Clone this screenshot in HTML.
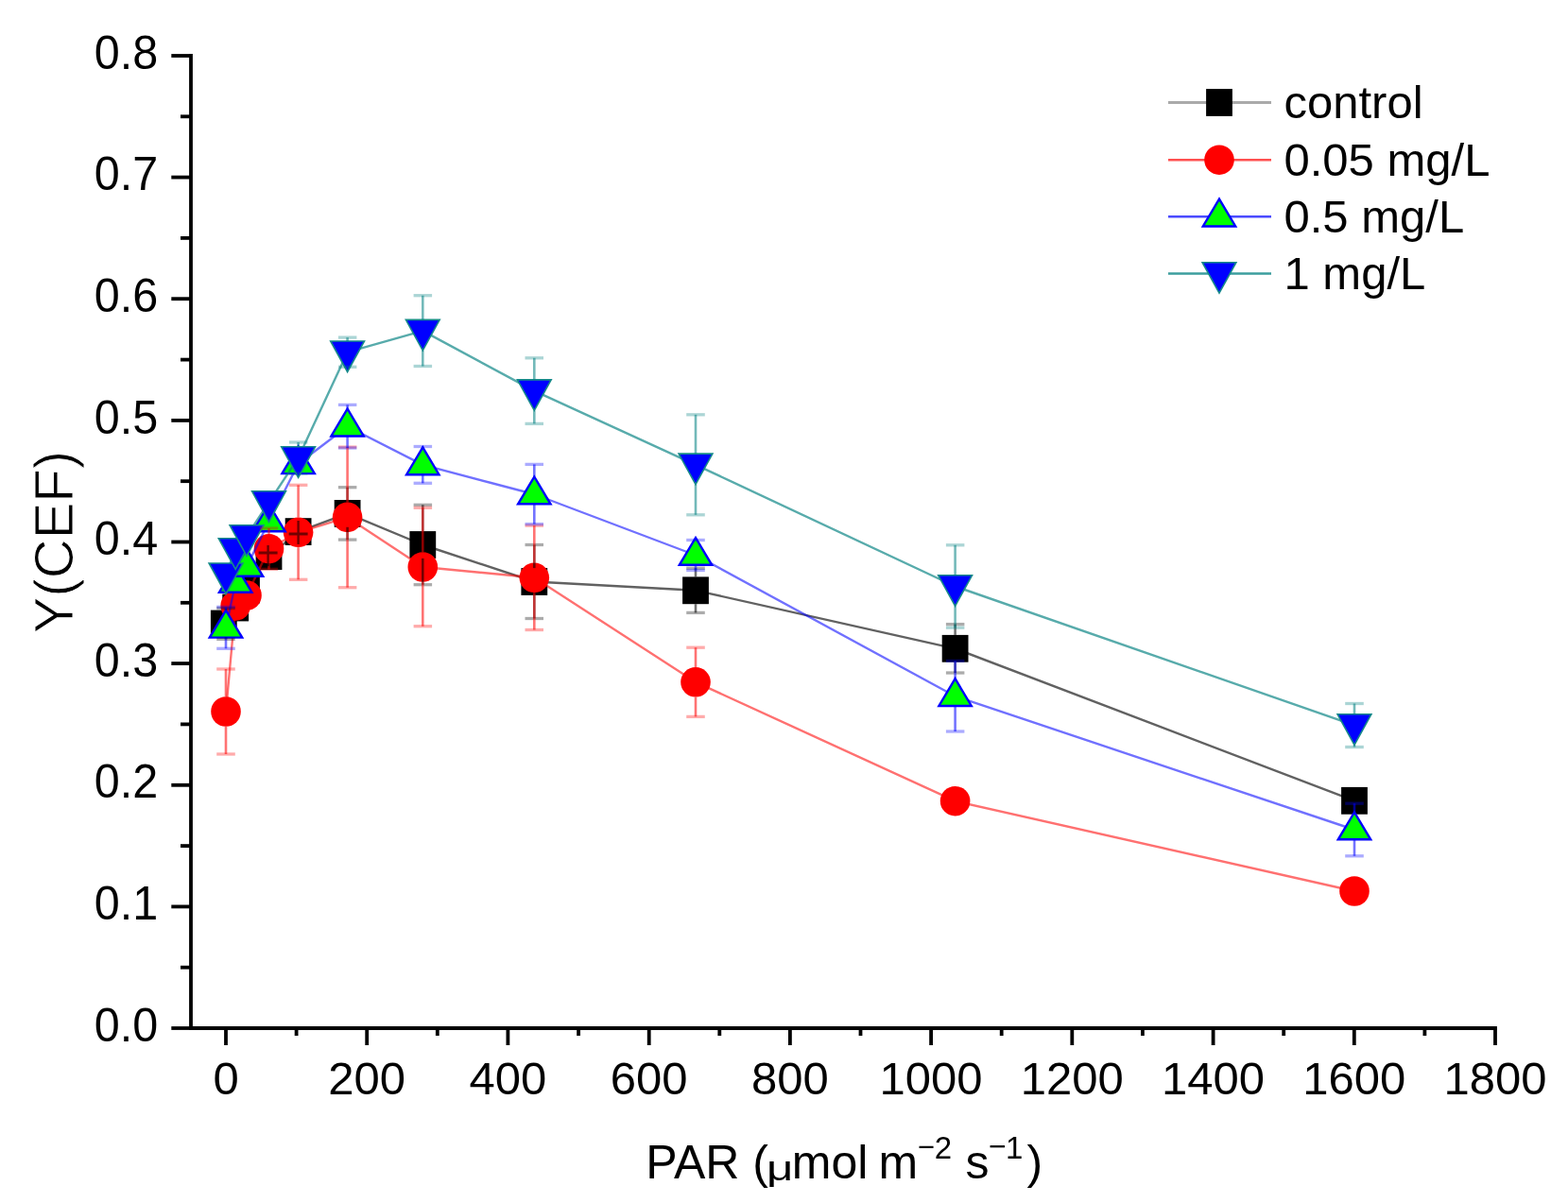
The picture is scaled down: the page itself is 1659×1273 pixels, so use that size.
<!DOCTYPE html><html><head><meta charset="utf-8"><title>Y(CEF) vs PAR</title>
<style>html,body{margin:0;padding:0;background:#fff;}svg{display:block;}text{font-family:'Liberation Sans', sans-serif;fill:#000;}</style>
</head><body>
<svg width="1659" height="1273" viewBox="0 0 1659 1273">
<rect width="1659" height="1273" fill="#fff"/>
<polyline points="239.0,660.0 249.2,643.0 261.0,624.0 284.5,588.6 315.6,562.6 367.6,543.4 447.3,576.5 565.3,615.5 736.0,624.8 1010.6,686.3 1433.0,847.3" fill="none" stroke="#000000" stroke-opacity="0.62" stroke-width="2.4" stroke-linejoin="round"/>
<rect x="222.9" y="645.6" width="27.8" height="28.8" fill="#000"/>
<rect x="235.3" y="628.6" width="27.8" height="28.8" fill="#000"/>
<rect x="247.1" y="609.6" width="27.8" height="28.8" fill="#000"/>
<rect x="270.6" y="574.2" width="27.8" height="28.8" fill="#000"/>
<rect x="301.7" y="548.2" width="27.8" height="28.8" fill="#000"/>
<rect x="353.7" y="529.0" width="27.8" height="28.8" fill="#000"/>
<rect x="433.4" y="562.1" width="27.8" height="28.8" fill="#000"/>
<rect x="551.4" y="601.1" width="27.8" height="28.8" fill="#000"/>
<rect x="722.1" y="610.4" width="27.8" height="28.8" fill="#000"/>
<rect x="996.7" y="671.9" width="27.8" height="28.8" fill="#000"/>
<rect x="1419.1" y="832.9" width="27.8" height="28.8" fill="#000"/>
<polyline points="239.0,753.0 249.2,641.0 261.0,630.0 284.5,580.7 315.6,563.3 367.6,547.4 447.3,600.0 565.3,611.3 736.0,721.8 1010.6,847.7 1433.0,943.0" fill="none" stroke="#ff0000" stroke-opacity="0.56" stroke-width="2.4" stroke-linejoin="round"/>
<circle cx="239.0" cy="753.0" r="15.8" fill="#ff0000"/>
<circle cx="249.2" cy="641.0" r="15.8" fill="#ff0000"/>
<circle cx="261.0" cy="630.0" r="15.8" fill="#ff0000"/>
<circle cx="284.5" cy="580.7" r="15.8" fill="#ff0000"/>
<circle cx="315.6" cy="563.3" r="15.8" fill="#ff0000"/>
<circle cx="367.6" cy="547.4" r="15.8" fill="#ff0000"/>
<circle cx="447.3" cy="600.0" r="15.8" fill="#ff0000"/>
<circle cx="565.3" cy="611.3" r="15.8" fill="#ff0000"/>
<circle cx="736.0" cy="721.8" r="15.8" fill="#ff0000"/>
<circle cx="1010.6" cy="847.7" r="15.8" fill="#ff0000"/>
<circle cx="1433.0" cy="943.0" r="15.8" fill="#ff0000"/>
<polyline points="239.0,664.3 249.2,616.4 261.0,599.5 284.5,552.0 315.6,490.8 367.6,451.2 447.3,491.9 565.3,523.0 736.0,587.5 1010.6,736.7 1433.0,878.0" fill="none" stroke="#0000ff" stroke-opacity="0.56" stroke-width="2.4" stroke-linejoin="round"/>
<polygon points="239.0,645.8 221.8,674.6 256.2,674.6" fill="#00ff00" stroke="#0000ff" stroke-width="2.4" stroke-linejoin="miter"/>
<polygon points="249.2,597.9 232.0,626.7 266.4,626.7" fill="#00ff00" stroke="#0000ff" stroke-width="2.4" stroke-linejoin="miter"/>
<polygon points="261.0,581.0 243.8,609.8 278.2,609.8" fill="#00ff00" stroke="#0000ff" stroke-width="2.4" stroke-linejoin="miter"/>
<polygon points="284.5,533.5 267.3,562.3 301.7,562.3" fill="#00ff00" stroke="#0000ff" stroke-width="2.4" stroke-linejoin="miter"/>
<polygon points="315.6,472.3 298.4,501.1 332.8,501.1" fill="#00ff00" stroke="#0000ff" stroke-width="2.4" stroke-linejoin="miter"/>
<polygon points="367.6,432.7 350.4,461.5 384.8,461.5" fill="#00ff00" stroke="#0000ff" stroke-width="2.4" stroke-linejoin="miter"/>
<polygon points="447.3,473.4 430.1,502.2 464.5,502.2" fill="#00ff00" stroke="#0000ff" stroke-width="2.4" stroke-linejoin="miter"/>
<polygon points="565.3,504.5 548.1,533.3 582.5,533.3" fill="#00ff00" stroke="#0000ff" stroke-width="2.4" stroke-linejoin="miter"/>
<polygon points="736.0,569.0 718.8,597.8 753.2,597.8" fill="#00ff00" stroke="#0000ff" stroke-width="2.4" stroke-linejoin="miter"/>
<polygon points="1010.6,718.2 993.4,747.0 1027.8,747.0" fill="#00ff00" stroke="#0000ff" stroke-width="2.4" stroke-linejoin="miter"/>
<polygon points="1433.0,859.5 1415.8,888.3 1450.2,888.3" fill="#00ff00" stroke="#0000ff" stroke-width="2.4" stroke-linejoin="miter"/>
<polyline points="239.0,607.7 249.2,581.5 261.0,567.5 284.5,531.5 315.6,484.5 367.6,372.7 447.3,350.1 565.3,413.6 736.0,491.8 1010.6,620.5 1433.0,767.5" fill="none" stroke="#008080" stroke-opacity="0.66" stroke-width="2.4" stroke-linejoin="round"/>
<polygon points="221.1,596.0 256.9,596.0 239.0,628.5" fill="#0000ff" stroke="#168a8a" stroke-width="1.6" stroke-linejoin="miter"/>
<polygon points="231.3,569.8 267.1,569.8 249.2,602.3" fill="#0000ff" stroke="#168a8a" stroke-width="1.6" stroke-linejoin="miter"/>
<polygon points="243.1,555.8 278.9,555.8 261.0,588.3" fill="#0000ff" stroke="#168a8a" stroke-width="1.6" stroke-linejoin="miter"/>
<polygon points="266.6,519.8 302.4,519.8 284.5,552.3" fill="#0000ff" stroke="#168a8a" stroke-width="1.6" stroke-linejoin="miter"/>
<polygon points="297.7,472.8 333.5,472.8 315.6,505.3" fill="#0000ff" stroke="#168a8a" stroke-width="1.6" stroke-linejoin="miter"/>
<polygon points="349.7,361.0 385.5,361.0 367.6,393.5" fill="#0000ff" stroke="#168a8a" stroke-width="1.6" stroke-linejoin="miter"/>
<polygon points="429.4,338.4 465.2,338.4 447.3,370.9" fill="#0000ff" stroke="#168a8a" stroke-width="1.6" stroke-linejoin="miter"/>
<polygon points="547.4,401.9 583.2,401.9 565.3,434.4" fill="#0000ff" stroke="#168a8a" stroke-width="1.6" stroke-linejoin="miter"/>
<polygon points="718.1,480.1 753.9,480.1 736.0,512.6" fill="#0000ff" stroke="#168a8a" stroke-width="1.6" stroke-linejoin="miter"/>
<polygon points="992.7,608.8 1028.5,608.8 1010.6,641.3" fill="#0000ff" stroke="#168a8a" stroke-width="1.6" stroke-linejoin="miter"/>
<polygon points="1415.1,755.8 1450.9,755.8 1433.0,788.3" fill="#0000ff" stroke="#168a8a" stroke-width="1.6" stroke-linejoin="miter"/>
<g>
<line x1="239.0" y1="643.6" x2="239.0" y2="645.6" stroke="#000000" stroke-width="2.6" stroke-opacity="0.55"/><line x1="239.0" y1="674.4" x2="239.0" y2="676.4" stroke="#000000" stroke-width="2.6" stroke-opacity="0.55"/><line x1="229.2" y1="643.6" x2="248.8" y2="643.6" stroke="#000000" stroke-width="3.3" stroke-opacity="0.33"/><line x1="229.2" y1="676.4" x2="248.8" y2="676.4" stroke="#000000" stroke-width="3.3" stroke-opacity="0.33"/>




<line x1="367.6" y1="515.7" x2="367.6" y2="529.0" stroke="#000000" stroke-width="2.6" stroke-opacity="0.55"/><line x1="367.6" y1="557.8" x2="367.6" y2="571.1" stroke="#000000" stroke-width="2.6" stroke-opacity="0.55"/><line x1="357.9" y1="515.7" x2="377.4" y2="515.7" stroke="#000000" stroke-width="3.3" stroke-opacity="0.33"/><line x1="357.9" y1="571.1" x2="377.4" y2="571.1" stroke="#000000" stroke-width="3.3" stroke-opacity="0.33"/>
<line x1="447.3" y1="534.3" x2="447.3" y2="562.1" stroke="#000000" stroke-width="2.6" stroke-opacity="0.55"/><line x1="447.3" y1="590.9" x2="447.3" y2="618.7" stroke="#000000" stroke-width="2.6" stroke-opacity="0.55"/><line x1="437.6" y1="534.3" x2="457.1" y2="534.3" stroke="#000000" stroke-width="3.3" stroke-opacity="0.33"/><line x1="437.6" y1="618.7" x2="457.1" y2="618.7" stroke="#000000" stroke-width="3.3" stroke-opacity="0.33"/>
<line x1="565.3" y1="576.5" x2="565.3" y2="601.1" stroke="#000000" stroke-width="2.6" stroke-opacity="0.55"/><line x1="565.3" y1="629.9" x2="565.3" y2="654.5" stroke="#000000" stroke-width="2.6" stroke-opacity="0.55"/><line x1="555.5" y1="576.5" x2="575.0" y2="576.5" stroke="#000000" stroke-width="3.3" stroke-opacity="0.33"/><line x1="555.5" y1="654.5" x2="575.0" y2="654.5" stroke="#000000" stroke-width="3.3" stroke-opacity="0.33"/>
<line x1="736.0" y1="601.2" x2="736.0" y2="610.4" stroke="#000000" stroke-width="2.6" stroke-opacity="0.55"/><line x1="736.0" y1="639.2" x2="736.0" y2="648.4" stroke="#000000" stroke-width="2.6" stroke-opacity="0.55"/><line x1="726.2" y1="601.2" x2="745.8" y2="601.2" stroke="#000000" stroke-width="3.3" stroke-opacity="0.33"/><line x1="726.2" y1="648.4" x2="745.8" y2="648.4" stroke="#000000" stroke-width="3.3" stroke-opacity="0.33"/>
<line x1="1010.6" y1="660.6" x2="1010.6" y2="671.9" stroke="#000000" stroke-width="2.6" stroke-opacity="0.55"/><line x1="1010.6" y1="700.7" x2="1010.6" y2="712.0" stroke="#000000" stroke-width="2.6" stroke-opacity="0.55"/><line x1="1000.9" y1="660.6" x2="1020.4" y2="660.6" stroke="#000000" stroke-width="3.3" stroke-opacity="0.33"/><line x1="1000.9" y1="712.0" x2="1020.4" y2="712.0" stroke="#000000" stroke-width="3.3" stroke-opacity="0.33"/>

</g><g>
<line x1="239.0" y1="708.0" x2="239.0" y2="737.2" stroke="#ff0000" stroke-width="2.6" stroke-opacity="0.55"/><line x1="239.0" y1="768.8" x2="239.0" y2="798.0" stroke="#ff0000" stroke-width="2.6" stroke-opacity="0.55"/><line x1="229.2" y1="708.0" x2="248.8" y2="708.0" stroke="#ff0000" stroke-width="3.3" stroke-opacity="0.33"/><line x1="229.2" y1="798.0" x2="248.8" y2="798.0" stroke="#ff0000" stroke-width="3.3" stroke-opacity="0.33"/>


<line x1="284.5" y1="559.0" x2="284.5" y2="564.9" stroke="#ff0000" stroke-width="2.6" stroke-opacity="0.55"/><line x1="284.5" y1="596.5" x2="284.5" y2="602.4" stroke="#ff0000" stroke-width="2.6" stroke-opacity="0.55"/><line x1="274.8" y1="559.0" x2="294.2" y2="559.0" stroke="#ff0000" stroke-width="3.3" stroke-opacity="0.33"/><line x1="274.8" y1="602.4" x2="294.2" y2="602.4" stroke="#ff0000" stroke-width="3.3" stroke-opacity="0.33"/>
<line x1="315.6" y1="513.3" x2="315.6" y2="547.5" stroke="#ff0000" stroke-width="2.6" stroke-opacity="0.55"/><line x1="315.6" y1="579.1" x2="315.6" y2="613.3" stroke="#ff0000" stroke-width="2.6" stroke-opacity="0.55"/><line x1="305.9" y1="513.3" x2="325.4" y2="513.3" stroke="#ff0000" stroke-width="3.3" stroke-opacity="0.33"/><line x1="305.9" y1="613.3" x2="325.4" y2="613.3" stroke="#ff0000" stroke-width="3.3" stroke-opacity="0.33"/>
<line x1="367.6" y1="473.1" x2="367.6" y2="531.6" stroke="#ff0000" stroke-width="2.6" stroke-opacity="0.55"/><line x1="367.6" y1="563.2" x2="367.6" y2="621.7" stroke="#ff0000" stroke-width="2.6" stroke-opacity="0.55"/><line x1="357.9" y1="473.1" x2="377.4" y2="473.1" stroke="#ff0000" stroke-width="3.3" stroke-opacity="0.33"/><line x1="357.9" y1="621.7" x2="377.4" y2="621.7" stroke="#ff0000" stroke-width="3.3" stroke-opacity="0.33"/>
<line x1="447.3" y1="537.3" x2="447.3" y2="584.2" stroke="#ff0000" stroke-width="2.6" stroke-opacity="0.55"/><line x1="447.3" y1="615.8" x2="447.3" y2="662.7" stroke="#ff0000" stroke-width="2.6" stroke-opacity="0.55"/><line x1="437.6" y1="537.3" x2="457.1" y2="537.3" stroke="#ff0000" stroke-width="3.3" stroke-opacity="0.33"/><line x1="437.6" y1="662.7" x2="457.1" y2="662.7" stroke="#ff0000" stroke-width="3.3" stroke-opacity="0.33"/>
<line x1="565.3" y1="556.1" x2="565.3" y2="595.5" stroke="#ff0000" stroke-width="2.6" stroke-opacity="0.55"/><line x1="565.3" y1="627.1" x2="565.3" y2="666.5" stroke="#ff0000" stroke-width="2.6" stroke-opacity="0.55"/><line x1="555.5" y1="556.1" x2="575.0" y2="556.1" stroke="#ff0000" stroke-width="3.3" stroke-opacity="0.33"/><line x1="555.5" y1="666.5" x2="575.0" y2="666.5" stroke="#ff0000" stroke-width="3.3" stroke-opacity="0.33"/>
<line x1="736.0" y1="685.2" x2="736.0" y2="706.0" stroke="#ff0000" stroke-width="2.6" stroke-opacity="0.55"/><line x1="736.0" y1="737.6" x2="736.0" y2="758.4" stroke="#ff0000" stroke-width="2.6" stroke-opacity="0.55"/><line x1="726.2" y1="685.2" x2="745.8" y2="685.2" stroke="#ff0000" stroke-width="3.3" stroke-opacity="0.33"/><line x1="726.2" y1="758.4" x2="745.8" y2="758.4" stroke="#ff0000" stroke-width="3.3" stroke-opacity="0.33"/>


</g><g>
<line x1="239.0" y1="642.3" x2="239.0" y2="645.8" stroke="#0000ff" stroke-width="2.6" stroke-opacity="0.55"/><line x1="239.0" y1="674.6" x2="239.0" y2="686.3" stroke="#0000ff" stroke-width="2.6" stroke-opacity="0.55"/><line x1="229.2" y1="642.3" x2="248.8" y2="642.3" stroke="#0000ff" stroke-width="3.3" stroke-opacity="0.33"/><line x1="229.2" y1="686.3" x2="248.8" y2="686.3" stroke="#0000ff" stroke-width="3.3" stroke-opacity="0.33"/>




<line x1="367.6" y1="428.4" x2="367.6" y2="432.7" stroke="#0000ff" stroke-width="2.6" stroke-opacity="0.55"/><line x1="367.6" y1="461.5" x2="367.6" y2="474.0" stroke="#0000ff" stroke-width="2.6" stroke-opacity="0.55"/><line x1="357.9" y1="428.4" x2="377.4" y2="428.4" stroke="#0000ff" stroke-width="3.3" stroke-opacity="0.33"/><line x1="357.9" y1="474.0" x2="377.4" y2="474.0" stroke="#0000ff" stroke-width="3.3" stroke-opacity="0.33"/>
<line x1="447.3" y1="472.5" x2="447.3" y2="473.4" stroke="#0000ff" stroke-width="2.6" stroke-opacity="0.55"/><line x1="447.3" y1="502.2" x2="447.3" y2="511.3" stroke="#0000ff" stroke-width="2.6" stroke-opacity="0.55"/><line x1="437.6" y1="472.5" x2="457.1" y2="472.5" stroke="#0000ff" stroke-width="3.3" stroke-opacity="0.33"/><line x1="437.6" y1="511.3" x2="457.1" y2="511.3" stroke="#0000ff" stroke-width="3.3" stroke-opacity="0.33"/>
<line x1="565.3" y1="491.4" x2="565.3" y2="504.5" stroke="#0000ff" stroke-width="2.6" stroke-opacity="0.55"/><line x1="565.3" y1="533.3" x2="565.3" y2="554.6" stroke="#0000ff" stroke-width="2.6" stroke-opacity="0.55"/><line x1="555.5" y1="491.4" x2="575.0" y2="491.4" stroke="#0000ff" stroke-width="3.3" stroke-opacity="0.33"/><line x1="555.5" y1="554.6" x2="575.0" y2="554.6" stroke="#0000ff" stroke-width="3.3" stroke-opacity="0.33"/>
<line x1="736.0" y1="597.8" x2="736.0" y2="603.5" stroke="#0000ff" stroke-width="2.6" stroke-opacity="0.55"/><line x1="726.2" y1="571.5" x2="745.8" y2="571.5" stroke="#0000ff" stroke-width="3.3" stroke-opacity="0.33"/><line x1="726.2" y1="603.5" x2="745.8" y2="603.5" stroke="#0000ff" stroke-width="3.3" stroke-opacity="0.33"/>
<line x1="1010.6" y1="699.4" x2="1010.6" y2="718.2" stroke="#0000ff" stroke-width="2.6" stroke-opacity="0.55"/><line x1="1010.6" y1="747.0" x2="1010.6" y2="774.0" stroke="#0000ff" stroke-width="2.6" stroke-opacity="0.55"/><line x1="1000.9" y1="699.4" x2="1020.4" y2="699.4" stroke="#0000ff" stroke-width="3.3" stroke-opacity="0.33"/><line x1="1000.9" y1="774.0" x2="1020.4" y2="774.0" stroke="#0000ff" stroke-width="3.3" stroke-opacity="0.33"/>
<line x1="1433.0" y1="850.2" x2="1433.0" y2="859.5" stroke="#0000ff" stroke-width="2.6" stroke-opacity="0.55"/><line x1="1433.0" y1="888.3" x2="1433.0" y2="905.8" stroke="#0000ff" stroke-width="2.6" stroke-opacity="0.55"/><line x1="1423.2" y1="850.2" x2="1442.8" y2="850.2" stroke="#0000ff" stroke-width="3.3" stroke-opacity="0.33"/><line x1="1423.2" y1="905.8" x2="1442.8" y2="905.8" stroke="#0000ff" stroke-width="3.3" stroke-opacity="0.33"/>
</g><g>




<line x1="315.6" y1="468.0" x2="315.6" y2="472.8" stroke="#008080" stroke-width="2.6" stroke-opacity="0.55"/><line x1="305.9" y1="468.0" x2="325.4" y2="468.0" stroke="#008080" stroke-width="3.3" stroke-opacity="0.33"/><line x1="305.9" y1="501.0" x2="325.4" y2="501.0" stroke="#008080" stroke-width="3.3" stroke-opacity="0.33"/>
<line x1="367.6" y1="357.1" x2="367.6" y2="361.0" stroke="#008080" stroke-width="2.6" stroke-opacity="0.55"/><line x1="357.9" y1="357.1" x2="377.4" y2="357.1" stroke="#008080" stroke-width="3.3" stroke-opacity="0.33"/><line x1="357.9" y1="388.3" x2="377.4" y2="388.3" stroke="#008080" stroke-width="3.3" stroke-opacity="0.33"/>
<line x1="447.3" y1="312.7" x2="447.3" y2="338.4" stroke="#008080" stroke-width="2.6" stroke-opacity="0.55"/><line x1="447.3" y1="370.9" x2="447.3" y2="387.5" stroke="#008080" stroke-width="2.6" stroke-opacity="0.55"/><line x1="437.6" y1="312.7" x2="457.1" y2="312.7" stroke="#008080" stroke-width="3.3" stroke-opacity="0.33"/><line x1="437.6" y1="387.5" x2="457.1" y2="387.5" stroke="#008080" stroke-width="3.3" stroke-opacity="0.33"/>
<line x1="565.3" y1="378.8" x2="565.3" y2="401.9" stroke="#008080" stroke-width="2.6" stroke-opacity="0.55"/><line x1="565.3" y1="434.4" x2="565.3" y2="448.4" stroke="#008080" stroke-width="2.6" stroke-opacity="0.55"/><line x1="555.5" y1="378.8" x2="575.0" y2="378.8" stroke="#008080" stroke-width="3.3" stroke-opacity="0.33"/><line x1="555.5" y1="448.4" x2="575.0" y2="448.4" stroke="#008080" stroke-width="3.3" stroke-opacity="0.33"/>
<line x1="736.0" y1="438.8" x2="736.0" y2="480.1" stroke="#008080" stroke-width="2.6" stroke-opacity="0.55"/><line x1="736.0" y1="512.6" x2="736.0" y2="544.8" stroke="#008080" stroke-width="2.6" stroke-opacity="0.55"/><line x1="726.2" y1="438.8" x2="745.8" y2="438.8" stroke="#008080" stroke-width="3.3" stroke-opacity="0.33"/><line x1="726.2" y1="544.8" x2="745.8" y2="544.8" stroke="#008080" stroke-width="3.3" stroke-opacity="0.33"/>
<line x1="1010.6" y1="576.8" x2="1010.6" y2="608.8" stroke="#008080" stroke-width="2.6" stroke-opacity="0.55"/><line x1="1010.6" y1="641.3" x2="1010.6" y2="664.2" stroke="#008080" stroke-width="2.6" stroke-opacity="0.55"/><line x1="1000.9" y1="576.8" x2="1020.4" y2="576.8" stroke="#008080" stroke-width="3.3" stroke-opacity="0.33"/><line x1="1000.9" y1="664.2" x2="1020.4" y2="664.2" stroke="#008080" stroke-width="3.3" stroke-opacity="0.33"/>
<line x1="1433.0" y1="744.5" x2="1433.0" y2="755.8" stroke="#008080" stroke-width="2.6" stroke-opacity="0.55"/><line x1="1433.0" y1="788.3" x2="1433.0" y2="790.5" stroke="#008080" stroke-width="2.6" stroke-opacity="0.55"/><line x1="1423.2" y1="744.5" x2="1442.8" y2="744.5" stroke="#008080" stroke-width="3.3" stroke-opacity="0.33"/><line x1="1423.2" y1="790.5" x2="1442.8" y2="790.5" stroke="#008080" stroke-width="3.3" stroke-opacity="0.33"/>
</g>
<g opacity="0.55" stroke="#000" stroke-width="2.4">
<line x1="315.6" y1="551" x2="315.6" y2="576"/><line x1="305.6" y1="565" x2="325.6" y2="565" stroke-width="3"/>
<line x1="283.6" y1="577" x2="283.6" y2="599"/><line x1="273.6" y1="585" x2="293.6" y2="585" stroke-width="3"/>
</g>
<path d="M202.0,59.0 V1088.0 H1582.0" stroke="#000" stroke-width="3.8" stroke-linecap="square" stroke-linejoin="miter" fill="none"/>
<g stroke="#000" stroke-width="3.8" stroke-linecap="butt" fill="none">
<path d="M181.3,59.0 H202.0"/>
<path d="M181.3,187.6 H202.0"/>
<path d="M181.3,316.2 H202.0"/>
<path d="M181.3,444.9 H202.0"/>
<path d="M181.3,573.5 H202.0"/>
<path d="M181.3,702.1 H202.0"/>
<path d="M181.3,830.8 H202.0"/>
<path d="M181.3,959.4 H202.0"/>
<path d="M181.3,1088.0 H202.0"/>
<path d="M191,123.3 H202.0"/>
<path d="M191,251.9 H202.0"/>
<path d="M191,380.6 H202.0"/>
<path d="M191,509.2 H202.0"/>
<path d="M191,637.8 H202.0"/>
<path d="M191,766.4 H202.0"/>
<path d="M191,895.1 H202.0"/>
<path d="M191,1023.7 H202.0"/>
<path d="M239.0,1088.0 V1106"/>
<path d="M388.2,1088.0 V1106"/>
<path d="M537.4,1088.0 V1106"/>
<path d="M686.7,1088.0 V1106"/>
<path d="M835.9,1088.0 V1106"/>
<path d="M985.1,1088.0 V1106"/>
<path d="M1134.3,1088.0 V1106"/>
<path d="M1283.6,1088.0 V1106"/>
<path d="M1432.8,1088.0 V1106"/>
<path d="M1582.0,1088.0 V1106"/>
<path d="M313.6,1088.0 V1096"/>
<path d="M462.8,1088.0 V1096"/>
<path d="M612.1,1088.0 V1096"/>
<path d="M761.3,1088.0 V1096"/>
<path d="M910.5,1088.0 V1096"/>
<path d="M1059.7,1088.0 V1096"/>
<path d="M1208.9,1088.0 V1096"/>
<path d="M1358.2,1088.0 V1096"/>
<path d="M1507.4,1088.0 V1096"/>
</g>
<g font-size="49">
<text transform="translate(167.2,72.6) scale(0.99,1.025)" text-anchor="end">0.8</text>
<text transform="translate(167.2,201.2) scale(0.99,1.025)" text-anchor="end">0.7</text>
<text transform="translate(167.2,329.9) scale(0.99,1.025)" text-anchor="end">0.6</text>
<text transform="translate(167.2,458.5) scale(0.99,1.025)" text-anchor="end">0.5</text>
<text transform="translate(167.2,587.1) scale(0.99,1.025)" text-anchor="end">0.4</text>
<text transform="translate(167.2,715.7) scale(0.99,1.025)" text-anchor="end">0.3</text>
<text transform="translate(167.2,844.4) scale(0.99,1.025)" text-anchor="end">0.2</text>
<text transform="translate(167.2,973.0) scale(0.99,1.025)" text-anchor="end">0.1</text>
<text transform="translate(167.2,1101.6) scale(0.99,1.025)" text-anchor="end">0.0</text>
<text transform="translate(239.0,1158)" text-anchor="middle">0</text>
<text transform="translate(388.2,1158)" text-anchor="middle">200</text>
<text transform="translate(537.4,1158)" text-anchor="middle">400</text>
<text transform="translate(686.7,1158)" text-anchor="middle">600</text>
<text transform="translate(835.9,1158)" text-anchor="middle">800</text>
<text transform="translate(985.1,1158)" text-anchor="middle">1000</text>
<text transform="translate(1134.3,1158)" text-anchor="middle">1200</text>
<text transform="translate(1283.6,1158)" text-anchor="middle">1400</text>
<text transform="translate(1432.8,1158)" text-anchor="middle">1600</text>
<text transform="translate(1582.0,1158)" text-anchor="middle">1800</text>
</g>
<text y="1247" font-size="50"><tspan x="683.3">PAR (</tspan><tspan x="837.8">mol</tspan><tspan x="929.5">m</tspan><tspan x="970.8" y="1224" font-size="31">&#8722;</tspan><tspan x="988.8" y="1226" font-size="33">2</tspan><tspan x="1021.4" y="1247">s</tspan><tspan x="1046" y="1224" font-size="32">&#8722;</tspan><tspan x="1064" y="1226" font-size="33">1</tspan><tspan x="1086.6" y="1247">)</tspan></text>
<text transform="translate(811.1,1248.6) scale(1.12,0.82)" font-size="44">&#956;</text>
<text transform="translate(77.3,573.6) rotate(-90)" font-size="58" text-anchor="middle" style="stroke:#fff;stroke-width:0.9px">Y(CEF)</text>
<line x1="1236" y1="108.5" x2="1345" y2="108.5" stroke="#aaaaaa" stroke-width="3"/>
<rect x="1276.1" y="94.1" width="27.8" height="28.8" fill="#000"/>
<line x1="1236" y1="169.2" x2="1345" y2="169.2" stroke="#ff5050" stroke-width="2.5"/>
<circle cx="1290.0" cy="169.2" r="15.8" fill="#ff0000"/>
<line x1="1236" y1="229.2" x2="1345" y2="229.2" stroke="#4a4aff" stroke-width="2.5"/>
<polygon points="1290.0,210.7 1272.8,239.5 1307.2,239.5" fill="#00ff00" stroke="#0000ff" stroke-width="2.4" stroke-linejoin="miter"/>
<line x1="1236" y1="289.4" x2="1345" y2="289.4" stroke="#3c9e9e" stroke-width="2.5"/>
<polygon points="1272.1,277.7 1307.9,277.7 1290.0,310.2" fill="#0000ff" stroke="#168a8a" stroke-width="1.6" stroke-linejoin="miter"/>
<g font-size="49">
<text transform="translate(1358.5,124.8)">control</text>
<text transform="translate(1358.5,185.5)">0.05 mg/L</text>
<text transform="translate(1358.5,245.5)">0.5 mg/L</text>
<text transform="translate(1358.5,305.7)">1 mg/L</text>
</g>
</svg></body></html>
